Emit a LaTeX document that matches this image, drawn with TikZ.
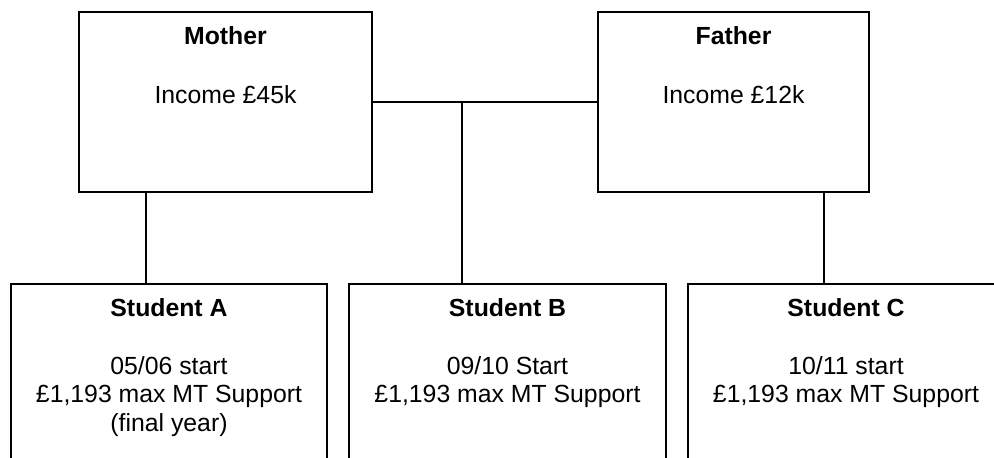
\documentclass[tikz,border=0pt]{standalone}
\usepackage{fontspec}
\setmainfont{Liberation Sans}
\newcommand\fsz{\fontsize{24.8}{28.5}\selectfont}
\newcommand\tstrut{\rule{0pt}{20pt}}
\tikzset{
  box/.style={draw, line width=1.6pt, inner sep=0pt, minimum height=180, rectangle},
  sbox/.style={draw, line width=1.6pt, inner sep=0pt, minimum width=316, minimum height=260, anchor=north, rectangle},
  txt/.style={anchor=north, align=center, inner sep=0pt, font=\fsz, yshift=-13pt},
  conn/.style={line width=1.6pt},
}
\begin{document}
\begin{tikzpicture}[x=1pt, y=-1pt]
\useasboundingbox (0,0) rectangle (994,458);
\clip (0,0) rectangle (994,458);
% parents
\node[box, minimum width=293] (M) at (225.5,102) {};
\node[box, minimum width=271] (F) at (733.5,102) {};
\node[txt] (Mt) at (M.north) {\tstrut\textbf{Mother}\\[30.5pt]Income £45k};
\node[txt] (Ft) at (F.north) {\tstrut\textbf{Father}\\[30.5pt]Income £12k};
% students
\node[sbox] (A) at (169,283) {};
\node[sbox, minimum width=317] (B) at (507.5,283) {};
\node[sbox] (C) at (846,283) {};
\node[txt] (At) at (A.north) {\tstrut\textbf{Student A}\\[29.5pt]05/06 start\\£1,193 max MT Support\\(final year)};
\node[txt] (Bt) at (B.north) {\tstrut\textbf{Student B}\\[29.5pt]09/10 Start\\£1,193 max MT Support};
\node[txt] (Ct) at (C.north) {\tstrut\textbf{Student C}\\[29.5pt]10/11 start\\£1,193 max MT Support};
% connectors
\coordinate (jB) at (462,102);
\coordinate (jA) at (146,0);
\coordinate (jC) at (824,0);
\draw[conn] (M.east) -- (F.west);
\draw[conn] (jB) -- (jB |- B.north);
\draw[conn] (jA |- M.south) -- (jA |- A.north);
\draw[conn] (jC |- F.south) -- (jC |- C.north);
\end{tikzpicture}
\end{document}
